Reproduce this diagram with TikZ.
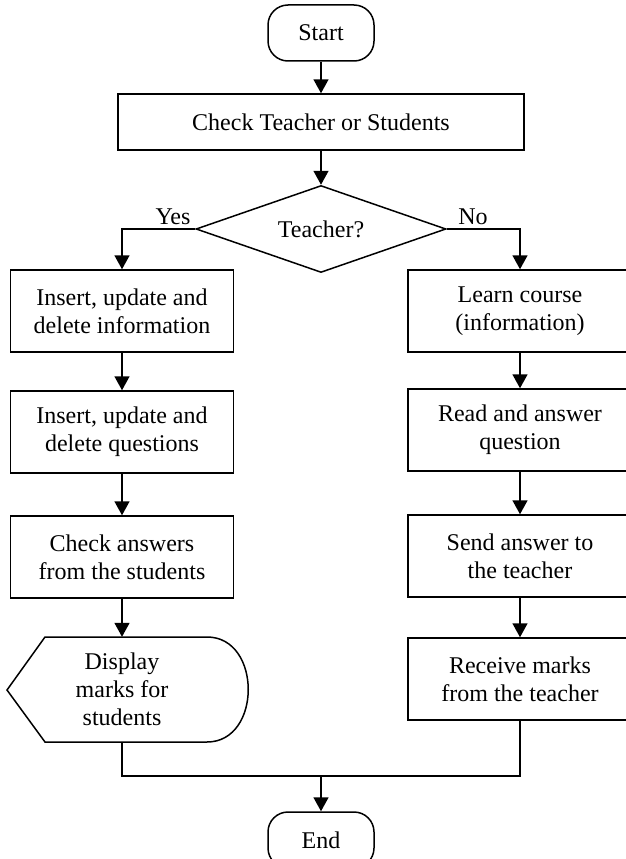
\documentclass[tikz,border=0pt]{standalone}
\usepackage{fontspec}
\setmainfont{Liberation Serif}
\usetikzlibrary{shapes.geometric, arrows.meta}

\begin{document}
\begin{tikzpicture}[x=1pt, y=-1pt,
    font=\fontsize{24}{28}\selectfont,
    box/.style={draw, line width=1.5pt, align=center, inner sep=0pt, minimum height=82pt},
    lbox/.style={box, minimum width=223pt},
    rbox/.style={box, minimum width=224pt},
    term/.style={draw, line width=1.5pt, rounded corners=20pt, minimum width=106pt, minimum height=56pt},
    cond/.style={draw, diamond, line width=1.5pt, aspect=2.9, inner sep=0pt, minimum width=250pt, minimum height=87pt},
    flow/.style={line width=1.6pt, -{Triangle[width=15pt, length=14pt]}}]

    \useasboundingbox (0,0) rectangle (626,859);

    \node[term] (start) at (321,33) {Start};
    \node[box, minimum width=406pt, minimum height=56pt] (check) at (321,122) {Check Teacher or Students};
    \node[cond] (teach) at (321,229) {Teacher?};
    \node (yes) at (173,217) {Yes};
    \node (no) at (473,217) {No};

    % teacher side
    \node[lbox] (l1) at (122,311) {Insert, update and\\delete information};
    \node[lbox] (l2) at (122,432) {Insert, update and\\delete questions};
    \node[lbox] (l3) at (122,557) {Check answers\\from the students};
    \node[align=center, inner sep=0pt, minimum height=105pt] (disp) at (122,689.5) {Display\\marks for\\students};
    \draw[line width=1.5pt] (7,690) -- (45,637) -- (207,637)
        .. controls (262,637) and (262,742) .. (207,742) -- (45,742) -- cycle;

    % student side
    \node[rbox] (r1) at (520,311) {Learn course\\(information)};
    \node[rbox] (r2) at (520,430) {Read and answer\\question};
    \node[rbox] (r3) at (520,556) {Send answer to\\the teacher};
    \node[rbox] (r4) at (520,679) {Receive marks\\from the teacher};

    \node[term] (end) at (321,840) {End};
    \coordinate (join) at (321,776);

    \draw[flow] (start) -- (check);
    \draw[flow] (check) -- (teach);
    \draw[flow] (teach.west) -| (l1.north);
    \draw[flow] (teach.east) -| (r1.north);
    \foreach \a/\b in {l1/l2, l2/l3, l3/disp, r1/r2, r2/r3, r3/r4}
        \draw[flow] (\a) -- (\b);
    \draw[line width=1.6pt] (disp.south) |- (join) -| (r4.south);
    \draw[flow] (join) -- (end);

\end{tikzpicture}
\end{document}
